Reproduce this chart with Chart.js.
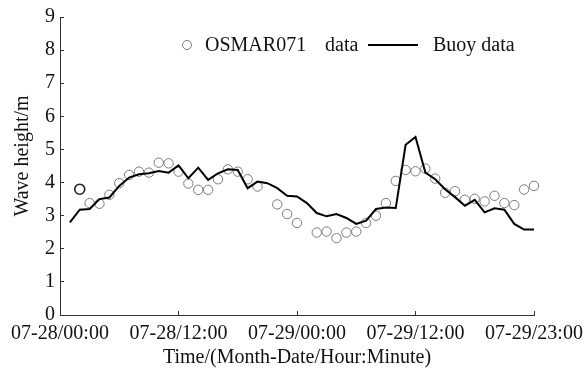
<!DOCTYPE html>
<html>
<head>
<meta charset="utf-8">
<script src="https://cdn.jsdelivr.net/npm/chart.js"></script>
<style>
  html, body { margin: 0; padding: 0; background: #fff; }
  canvas { display: block; }
</style>
</head>
<body>
<canvas id="wave" width="585" height="371"></canvas>
<script>
// wave height comparison, hours counted from 07-28/00:00
const xTickLabels = ['07-28/00:00', '07-28/12:00', '07-29/00:00', '07-29/12:00', '07-29/23:00'];

const osmarHours = [2, 3, 4, 5, 6, 7, 8, 9, 10, 11, 12, 13, 14, 15, 16, 17, 18, 19, 20,
  22, 23, 24, 26, 27, 28, 29, 30, 31, 32, 33, 34, 35, 36, 37, 38, 39, 40, 41, 42, 43, 44, 45, 46, 47, 48];
const osmarHeights = [3.80, 3.38, 3.36, 3.63, 3.98, 4.23, 4.33, 4.30, 4.60, 4.58, 4.33, 3.97, 3.78, 3.78, 4.10, 4.40, 4.33, 4.10, 3.88,
  3.34, 3.05, 2.78, 2.49, 2.52, 2.32, 2.49, 2.52, 2.78, 3.00, 3.38, 4.05, 4.38, 4.34, 4.42, 4.12, 3.69, 3.74, 3.48, 3.51, 3.43, 3.60, 3.38, 3.32, 3.79, 3.90];

const buoyHours = [1, 2, 3, 4, 5, 6, 7, 8, 9, 10, 11, 12, 13, 14, 15, 16, 17, 18, 19, 20, 21, 22, 23, 24,
  25, 26, 27, 28, 29, 30, 31, 32, 33, 34, 35, 36, 37, 38, 39, 40, 41, 42, 43, 44, 45, 46, 47, 48];
const buoyHeights = [2.80, 3.18, 3.20, 3.50, 3.55, 3.90, 4.15, 4.25, 4.28, 4.35, 4.30, 4.52, 4.13, 4.45, 4.08, 4.28, 4.40, 4.38, 3.83, 4.03, 3.98, 3.83, 3.60, 3.58,
  3.38, 3.08, 2.98, 3.05, 2.93, 2.75, 2.85, 3.20, 3.25, 3.23, 5.14, 5.38, 4.30, 4.10, 3.80, 3.56, 3.30, 3.48, 3.10, 3.22, 3.18, 2.75, 2.58, 2.58];

const FONT = 'Liberation Serif, "Times New Roman", serif';
const INK = '#111';
const CIRCLE = '#7a7a7a';

const toPoints = (xs, ys) => xs.map((x, i) => ({ x: x, y: ys[i] }));

// legend drawn inside the plot, near the top
const innerLegend = {
  id: 'innerLegend',
  afterDraw(chart) {
    const ctx = chart.ctx;
    const y = 45;
    ctx.save();
    ctx.font = '20px ' + FONT;
    ctx.fillStyle = INK;
    ctx.textBaseline = 'middle';
    ctx.textAlign = 'left';
    ctx.beginPath();
    ctx.arc(187, y, 4.5, 0, Math.PI * 2);
    ctx.lineWidth = 1;
    ctx.strokeStyle = CIRCLE;
    ctx.stroke();
    ctx.fillText('OSMAR071', 205, y + 1);
    ctx.fillText('data', 325, y + 1);
    ctx.beginPath();
    ctx.moveTo(368, y);
    ctx.lineTo(418, y);
    ctx.lineWidth = 2;
    ctx.strokeStyle = '#000';
    ctx.stroke();
    ctx.fillText('Buoy data', 433, y + 1);
    ctx.restore();
  }
};

new Chart(document.getElementById('wave').getContext('2d'), {
  type: 'scatter',
  data: {
    datasets: [
      {
        label: 'Buoy data',
        type: 'line',
        data: toPoints(buoyHours, buoyHeights),
        borderColor: '#000',
        borderWidth: 2,
        pointRadius: 0,
        tension: 0,
        fill: false,
        order: 1
      },
      {
        label: 'OSMAR071 data',
        data: toPoints(osmarHours, osmarHeights),
        clip: false,
        pointStyle: 'circle',
        pointRadius: ctx => ctx.dataIndex === 0 ? 5 : 4.7,
        pointBorderWidth: ctx => ctx.dataIndex === 0 ? 1.6 : 1,
        pointBorderColor: ctx => ctx.dataIndex === 0 ? '#222' : CIRCLE,
        pointBackgroundColor: 'rgba(0,0,0,0)',
        order: 2
      }
    ]
  },
  options: {
    responsive: false,
    animation: false,
    devicePixelRatio: 1,
    layout: { padding: { top: 17, right: 0, left: 0, bottom: 0 } },
    plugins: { legend: { display: false }, tooltip: { enabled: false } },
    scales: {
      x: {
        type: 'linear',
        min: 0,
        max: 48,
        afterFit: s => { s.height = 56; s.paddingLeft = 0; s.paddingRight = 51; },
        afterBuildTicks: s => { s.ticks = [0, 12, 24, 36, 48].map(v => ({ value: v })); },
        ticks: {
          callback: v => xTickLabels[v / 12],
          color: INK,
          font: { family: FONT, size: 20 },
          padding: 11,
          maxRotation: 0,
          autoSkip: false
        },
        grid: { drawOnChartArea: false, tickLength: -4, color: '#333' },
        border: { color: '#333', width: 1 },
        title: {
          display: true,
          text: 'Time/(Month-Date/Hour:Minute)',
          color: INK,
          font: { family: FONT, size: 20 },
          padding: { top: 0, bottom: 1 }
        }
      },
      y: {
        min: 0,
        max: 9,
        afterFit: s => { s.width = 60; s.paddingTop = 0; s.paddingBottom = 0; },
        ticks: {
          stepSize: 1,
          color: INK,
          font: { family: FONT, size: 20 },
          padding: 9
        },
        grid: { drawOnChartArea: false, tickLength: -4, color: '#333' },
        border: { color: '#333', width: 1 },
        title: {
          display: true,
          // leading en spaces lift the rotated title a little above the axis middle
          text: '\u2002\u2002Wave height/m',
          color: INK,
          font: { family: FONT, size: 20 },
          padding: { top: 11, bottom: 0 }
        }
      }
    }
  },
  plugins: [innerLegend]
});
</script>
</body>
</html>
